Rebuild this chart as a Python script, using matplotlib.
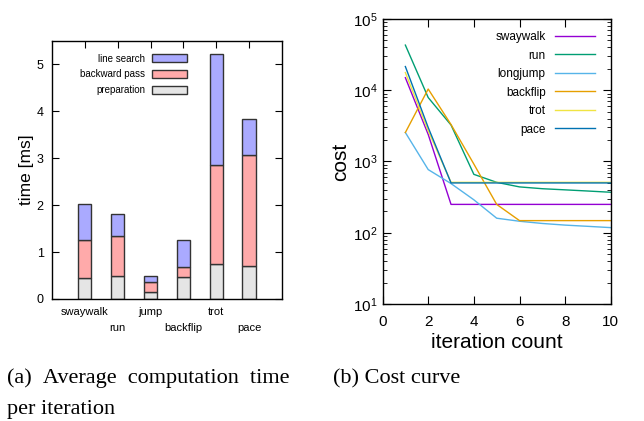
import numpy as np
import matplotlib
matplotlib.use('Agg')
import matplotlib.pyplot as plt
from matplotlib.ticker import LogLocator, NullFormatter

plt.rcParams['font.family'] = ['Liberation Sans', 'DejaVu Sans']

# left: average computation time per iteration [ms]
motions = ['swaywalk', 'run', 'jump', 'backflip', 'trot', 'pace']
preparation = [0.45, 0.48, 0.14, 0.46, 0.75, 0.71]
backward_pass = [0.81, 0.86, 0.23, 0.23, 2.10, 2.37]
line_search = [0.76, 0.48, 0.13, 0.57, 2.38, 0.75]

# right: cost curve
iters = [1, 2, 3, 4, 5, 6, 7, 8, 9, 10]
cost_swaywalk = [15000, 2400, 250, 250, 250, 250, 250, 250, 250, 250]
cost_run = [43000, 7900, 3250, 660, 510, 440, 415, 400, 385, 370]
cost_longjump = [2550, 770, 490, 290, 160, 145, 135, 128, 123, 118]
cost_backflip = [2550, 10400, 3300, 920, 250, 148, 148, 148, 148, 148]
cost_trot = [17700, 2700, 510, 510, 510, 510, 510, 510, 510, 510]
cost_pace = [21500, 3000, 500, 500, 500, 500, 500, 500, 500, 500]

fig = plt.figure(figsize=(6.44, 4.21), dpi=100)

# ---- (a) stacked bars
ax1 = fig.add_axes([0.0807, 0.2898, 0.357, 0.6128])
x = np.arange(1, len(motions) + 1)
prep = np.array(preparation)
bp = np.array(backward_pass)
ls = np.array(line_search)
kw = dict(width=0.4, edgecolor='#333333', linewidth=1.0)
b1 = ax1.bar(x, prep, color='#e5e5e5', label='preparation', **kw)
b2 = ax1.bar(x, bp, bottom=prep, color='#ffaaaa', label='backward pass', **kw)
b3 = ax1.bar(x, ls, bottom=prep + bp, color='#aaaaff', label='line search', **kw)
ax1.set_xlim(0, 7)
ax1.set_ylim(0, 5.5)
ax1.set_xticks(x)
ax1.set_xticklabels([m if i % 2 == 0 else '\n' + m for i, m in enumerate(motions)],
                    fontsize=8, linespacing=1.75)
ax1.set_yticks(range(6))
ax1.tick_params(axis='y', direction='in', left=True, right=True, length=5, labelsize=9, pad=6)
ax1.tick_params(axis='x', direction='in', bottom=False, top=True, length=5, pad=6)
ax1.set_ylabel('time [ms]', fontsize=12.5, labelpad=2)
leg1 = ax1.legend(handles=[b3, b2, b1], loc='upper right', bbox_to_anchor=(0.626, 0.985),
                  markerfirst=False, frameon=False, fontsize=7, handlelength=3.6,
                  handleheight=0.9, labelspacing=0.6, handletextpad=0.7)
for col in leg1._legend_handle_box.get_children():
    col.align = 'right'
for sp in ax1.spines.values():
    sp.set_linewidth(1.0)

# ---- (b) cost curve
ax2 = fig.add_axes([0.594, 0.2779, 0.3545, 0.677])
series = [('swaywalk', cost_swaywalk, '#9400d3'),
          ('run', cost_run, '#009e73'),
          ('longjump', cost_longjump, '#56b4e9'),
          ('backflip', cost_backflip, '#e69f00'),
          ('trot', cost_trot, '#f0e442'),
          ('pace', cost_pace, '#0072b2')]
for name, vals, c in series:
    ax2.plot(iters, vals, color=c, linewidth=1.0, label=name)
ax2.set_yscale('log')
ax2.set_xlim(0, 10)
ax2.set_ylim(10, 1e5)
ax2.set_xticks(range(0, 11, 2))
ax2.yaxis.set_minor_locator(LogLocator(base=10, subs=np.arange(2, 10)))
ax2.yaxis.set_minor_formatter(NullFormatter())
ax2.tick_params(which='both', direction='in', top=True, right=True, labelsize=11)
ax2.tick_params(which='major', length=6)
ax2.tick_params(which='minor', length=3)
ax2.tick_params(axis='x', pad=8)
ax2.set_xlabel('iteration count', fontsize=15, labelpad=3)
ax2.set_ylabel('cost', fontsize=15, labelpad=2)
leg2 = ax2.legend(loc='upper right', bbox_to_anchor=(0.978, 0.995), markerfirst=False,
                  frameon=False, fontsize=8.5, handlelength=3.4, labelspacing=0.55,
                  handletextpad=0.8)
for col in leg2._legend_handle_box.get_children():
    col.align = 'right'
for sp in ax2.spines.values():
    sp.set_linewidth(1.0)

# captions (first line is justified in the source, hence the wider spaces)
cap = dict(family=['Liberation Serif', 'DejaVu Serif'], fontsize=16, va='baseline')
fig.text(0.011, 1 - 383 / 421, '(a)\u2002Average\u2002computation\u2002time', **cap)
fig.text(0.011, 1 - 414 / 421, 'per iteration', **cap)
fig.text(0.517, 1 - 383 / 421, '(b) Cost curve', **cap)

fig.savefig('out.png', dpi=100)
